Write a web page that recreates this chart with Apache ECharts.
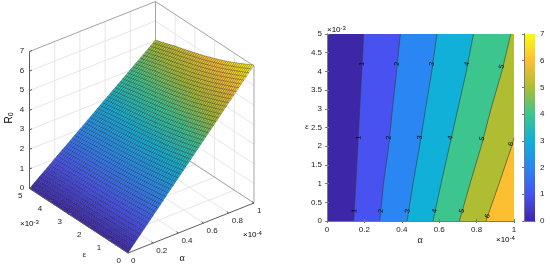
<!DOCTYPE html>
<html>
<head>
<meta charset="utf-8">
<style>html,body{margin:0;padding:0;background:#fff}#c{width:550px;height:267px;filter:blur(0.3px)}</style>
<script src="https://cdn.jsdelivr.net/npm/echarts@6/dist/echarts.min.js"></script>
</head>
<body>
<div id="c"></div>
<script>
// ---------- data ----------
const alphaCols = [0, 0.2, 0.4, 0.6, 0.8, 1];           // x 1e-4
const epsilonRows = [0, 0.5, 1, 1.5, 2, 2.5, 3, 3.5, 4, 4.5, 5]; // x 1e-3
const r0Rows = [
  [0, 1.41, 2.82, 4.23, 5.64, 7.05],
  [0, 1.36, 2.71, 4.07, 5.42, 6.78],
  [0, 1.30, 2.61, 3.91, 5.22, 6.52],
  [0, 1.26, 2.51, 3.77, 5.02, 6.28],
  [0, 1.21, 2.43, 3.64, 4.86, 6.07],
  [0, 1.17, 2.35, 3.52, 4.70, 5.87],
  [0, 1.14, 2.28, 3.42, 4.56, 5.70],
  [0, 1.11, 2.21, 3.32, 4.42, 5.53],
  [0, 1.08, 2.15, 3.23, 4.30, 5.38],
  [0, 1.04, 2.08, 3.12, 4.16, 5.20],
  [0, 1.01, 2.01, 3.02, 4.02, 5.03]
];
const contourEps = [0, 1, 2, 3, 4, 5];
const contour1 = [0.143, 0.154, 0.165, 0.175, 0.186, 0.196];
const contour2 = [0.282, 0.302, 0.330, 0.350, 0.372, 0.392];
const contour3 = [0.428, 0.460, 0.495, 0.527, 0.560, 0.588];
const contour4 = [0.567, 0.610, 0.655, 0.700, 0.745, 0.783];
const contour5 = [0.708, 0.765, 0.825, 0.877, 0.935, 0.983];
const contour6Pairs = [[0.85, 0], [0.92, 1], [0.988, 2], [1, 2.22]];
const contourLabels = [
  [1, 0.146, 0.27], [1, 0.169, 2.23], [1, 0.187, 4.2],
  [2, 0.289, 0.27], [2, 0.330, 2.23], [2, 0.374, 4.2],
  [3, 0.431, 0.27], [3, 0.497, 2.23], [3, 0.561, 4.2],
  [4, 0.576, 0.27], [4, 0.661, 2.23], [4, 0.749, 4.2],
  [5, 0.722, 0.27], [5, 0.829, 2.20], [5, 0.934, 4.13],
  [6, 0.859, 0.13], [6, 0.984, 2.06]
];
const zTicks = [0, 1, 2, 3, 4, 5, 6, 7];
const alphaTicks = [0, 0.2, 0.4, 0.6, 0.8, 1];
const epsTicks = [0, 1, 2, 3, 4, 5];
const parula = ['#3e26a8', '#4752f0', '#2a86f2', '#10b0d8', '#3cc68e', '#aebd31', '#fdbf32', '#f9fb15'];
// ---------- view ----------
const view = { ox: 128, oy: 253, ax: 126, ay: -50, ex: -98.5, ey: -64.5, zy: 137 / 7 };
const project = (a, e, z) => [view.ox + view.ax * a + view.ex * e / 5, view.oy + view.ay * a + view.ey * e / 5 - view.zy * z];
const hex = c => [1, 3, 5].map(i => parseInt(c.substr(i, 2), 16));
function colorAt(z) {
  const t = Math.max(0, Math.min(6.9999, z)), i = Math.floor(t), f = t - i;
  const p = hex(parula[i]), q = hex(parula[i + 1]);
  return 'rgb(' + p.map((v, k) => Math.round(v + (q[k] - v) * f)).join(',') + ')';
}
const TXT = '#1c1c1c', SANS = '"Liberation Sans", Arial, sans-serif', SERIF = '"Liberation Serif", serif';
const FS = 8;
const expRich = { a: { fontSize: FS, fontFamily: SANS, color: TXT }, b: { fontSize: 6, fontFamily: SANS, color: TXT, verticalAlign: 'top', padding: [0, 0, 3, 0] } };

// 3D box segments
const FRAME = '#a3a3a3', GRIDC = '#e6e6e6', AXIS = '#5e5e5e';
const segs = [];
const seg = (p, q, c, w) => segs.push([p[0], p[1], p[2], q[0], q[1], q[2], c, w]);
zTicks.slice(1, 7).concat([0]).forEach(z => { seg([0, 5, z], [1, 5, z], GRIDC, 1); seg([1, 5, z], [1, 0, z], GRIDC, 1); });
alphaTicks.slice(1, 5).forEach(a => { seg([a, 0, 0], [a, 5, 0], GRIDC, 1); seg([a, 5, 0], [a, 5, 7], GRIDC, 1); });
epsTicks.slice(1, 5).forEach(e => { seg([0, e, 0], [1, e, 0], GRIDC, 1); seg([1, e, 0], [1, e, 7], GRIDC, 1); });
seg([1, 5, 0], [1, 0, 0], FRAME, 1); seg([1, 5, 0], [1, 5, 7], FRAME, 1);
seg([0, 5, 7], [1, 5, 7], FRAME, 1); seg([1, 5, 7], [1, 0, 7], FRAME, 1); seg([1, 0, 0], [1, 0, 7], FRAME, 1);
const axisSegs = [];
const aseg = (p, q) => axisSegs.push([p[0], p[1], p[2], q[0], q[1], q[2], AXIS, 1]);
aseg([0, 5, 0], [0, 5, 7]); aseg([0, 0, 0], [1, 0, 0]); aseg([0, 0, 0], [0, 5, 0]);
zTicks.forEach(z => aseg([0, 5, z], [0.02, 5, z]));
alphaTicks.forEach(a => aseg([a, 0, 0], [a, 0.1, 0]));
epsTicks.forEach(e => aseg([0, e, 0], [0.02, e, 0]));

const segRender = (params, api) => {
  const d = segSource[params.seriesName][params.dataIndex];
  const p = api.coord(project(d[0], d[1], d[2])), q = api.coord(project(d[3], d[4], d[5]));
  return { type: 'line', shape: { x1: p[0], y1: p[1], x2: q[0], y2: q[1] }, style: { stroke: d[6], lineWidth: d[7] }, silent: true };
};
const segSource = { back: segs, front: axisSegs };

// Surface: one item per table cell, finely faceted for the mesh
const cells = [];
for (let j = 0; j < epsilonRows.length - 1; j++) for (let i = 0; i < alphaCols.length - 1; i++) cells.push([i, j]);
const SUB_A = 10, SUB_E = 5;
function surfaceItem(params, api) {
  const [i, j] = cells[params.dataIndex];
  const kids = [];
  const node = (u, v) => {
    const z = (r0Rows[j][i] * (1 - u) + r0Rows[j][i + 1] * u) * (1 - v) + (r0Rows[j + 1][i] * (1 - u) + r0Rows[j + 1][i + 1] * u) * v;
    const a = alphaCols[i] + (alphaCols[i + 1] - alphaCols[i]) * u, e = epsilonRows[j] + (epsilonRows[j + 1] - epsilonRows[j]) * v;
    return { z, p: api.coord(project(a, e, z)) };
  };
  for (let s = 0; s < SUB_A; s++) for (let t = 0; t < SUB_E; t++) {
    const n = [node(s / SUB_A, t / SUB_E), node((s + 1) / SUB_A, t / SUB_E), node((s + 1) / SUB_A, (t + 1) / SUB_E), node(s / SUB_A, (t + 1) / SUB_E)];
    const mz = (n[0].z + n[1].z + n[2].z + n[3].z) / 4;
    kids.push({ type: 'polygon', shape: { points: n.map(o => o.p) }, style: { fill: colorAt(mz), stroke: 'rgba(0,0,0,0.55)', lineWidth: 0.45 }, silent: true });
  }
  return { type: 'group', children: kids };
}

// Text around the 3D box
const labels3d = [];
zTicks.forEach(z => { const p = project(0, 5, z); labels3d.push({ t: String(z), x: p[0] - 7.5, y: p[1] - 0.5, al: 'center' }); });
epsTicks.forEach(e => { const p = project(0, e, 0); labels3d.push({ t: String(e), x: p[0] - 9.3, y: p[1] + 7.3, al: 'center' }); });
alphaTicks.forEach(a => { const p = project(a, 0, 0); labels3d.push({ t: String(a), x: p[0] + 3, y: p[1] + 8, al: 'left' }); });
const textRender = (params, api) => {
  const d = labels3d[params.dataIndex], p = api.coord([d.x, d.y]);
  return { type: 'text', x: p[0], y: p[1], style: { text: d.t, font: FS + 'px ' + SANS, fill: TXT, align: d.al, verticalAlign: 'middle' }, silent: true };
};

// Contour regions painted low to high
const lines = [contour1, contour2, contour3, contour4, contour5].map(col => col.map((a, k) => [a, contourEps[k]]));
lines.push(contour6Pairs);
const bandRender = (params, api) => {
  const i = params.dataIndex;
  let pts;
  if (i === 0) pts = [[0, 0], [1, 0], [1, 5], [0, 5]];
  else { const l = lines[i - 1], top = l[l.length - 1]; pts = l.concat([[1, top[1]], [1, 0]]); }
  return { type: 'polygon', shape: { points: pts.map(p => api.coord(p)) }, style: { fill: parula[i] }, silent: true };
};
const labelRender = (params, api) => {
  const d = contourLabels[params.dataIndex], l = lines[d[0] - 1];
  const p0 = api.coord(l[0]), p1 = api.coord(l[l.length - 1]), c = api.coord([d[1], d[2]]);
  const ang = Math.atan2(p0[1] - p1[1], p1[0] - p0[0]);
  return { type: 'text', x: c[0], y: c[1], rotation: ang, style: { text: String(d[0]), font: '7px ' + SANS, fill: '#0a0a0a', align: 'center', verticalAlign: 'middle' }, silent: true };
};

const frameLine = { show: true, lineStyle: { color: '#7a7a7a', width: 1 } };
const tickIn = { show: true, inside: true, length: 2, lineStyle: { color: '#7a7a7a', width: 1 } };
const lab = { color: TXT, fontSize: FS, fontFamily: SANS, margin: 5 };
const mirror = (pos, gi, min, max, interval) => ({ type: 'value', gridIndex: gi, position: pos, min, max, interval, z: 10, axisLine: frameLine, axisTick: tickIn, axisLabel: { show: false }, splitLine: { show: false } });
const main = (pos, gi, min, max, interval) => ({ type: 'value', gridIndex: gi, position: pos, min, max, interval, z: 10, axisLine: frameLine, axisTick: tickIn, axisLabel: lab, splitLine: { show: false } });

const gradStops = parula.map((c, k) => ({ offset: k / (parula.length - 1), color: c }));

const txt = (x, y, text, font, extra) => ({ type: 'text', x, y, silent: true, style: Object.assign({ text, font, fill: TXT, align: 'center', verticalAlign: 'middle' }, extra || {}) });
const power = (x, y, e) => ({ type: 'text', x, y, silent: true, style: { text: '{a|×10}{b|' + e + '}', rich: expRich, align: 'left', verticalAlign: 'middle' } });

const option = {
  animation: false,
  backgroundColor: '#fff',
  grid: [
    { left: 0, top: 0, width: 550, height: 267 },
    { left: 327, top: 34, width: 187, height: 187 },
    { left: 524, top: 34, width: 11, height: 187 }
  ],
  xAxis: [
    { type: 'value', gridIndex: 0, min: 0, max: 550, show: false },
    main('bottom', 1, 0, 1, 0.2),
    mirror('top', 1, 0, 1, 0.2),
    { type: 'category', gridIndex: 2, data: ['R0'], position: 'bottom', z: 10, axisLine: frameLine, axisTick: { show: false }, axisLabel: { show: false } },
    Object.assign(mirror('top', 2, 0, 1, 1), { axisTick: { show: false } })
  ],
  yAxis: [
    { type: 'value', gridIndex: 0, min: 0, max: 267, inverse: true, show: false },
    main('left', 1, 0, 5, 0.5),
    mirror('right', 1, 0, 5, 0.5),
    main('right', 2, 0, 7, 1),
    Object.assign(mirror('left', 2, 0, 7, 1), { axisTick: { show: false } })
  ],
  series: [
    { name: 'back', type: 'custom', xAxisIndex: 0, yAxisIndex: 0, clip: false, z: 2, data: segs.map((s, k) => [k]), renderItem: segRender, encode: { x: 0, y: 0 } },
    { name: 'R0 surface', type: 'custom', xAxisIndex: 0, yAxisIndex: 0, clip: false, z: 3, data: cells, renderItem: surfaceItem, encode: { x: 0, y: 1 } },
    { name: 'front', type: 'custom', xAxisIndex: 0, yAxisIndex: 0, clip: false, z: 4, data: axisSegs.map((s, k) => [k]), renderItem: segRender, encode: { x: 0, y: 0 } },
    { name: 'labels', type: 'custom', xAxisIndex: 0, yAxisIndex: 0, clip: false, z: 5, data: labels3d.map((s, k) => [k]), renderItem: textRender, encode: { x: 0, y: 0 } },
    { name: 'bands', type: 'custom', xAxisIndex: 1, yAxisIndex: 1, clip: false, z: 2, data: parula.slice(0, 7).map((c, k) => [k]), renderItem: bandRender, encode: { x: 0, y: 0 } }
  ].concat(lines.map((l, k) => ({
    name: 'level ' + (k + 1), type: 'line', xAxisIndex: 1, yAxisIndex: 1, data: l, showSymbol: false, symbol: 'none', z: 3, silent: true,
    lineStyle: { color: '#3a3a3a', width: 0.6 }
  }))).concat([
    { name: 'contour labels', type: 'custom', xAxisIndex: 1, yAxisIndex: 1, clip: false, z: 4, data: contourLabels.map((s, k) => [k]), renderItem: labelRender, encode: { x: 0, y: 0 } },
    { name: 'colorbar', type: 'bar', xAxisIndex: 3, yAxisIndex: 3, data: [7], barWidth: '100%', z: 2, silent: true,
      itemStyle: { color: { type: 'linear', x: 0, y: 1, x2: 0, y2: 0, colorStops: gradStops } } }
  ]),
  graphic: [
    { type: 'text', x: 9, y: 118, rotation: Math.PI / 2, silent: true, style: { text: '{a|R}{b|0}', align: 'center', verticalAlign: 'middle',
      rich: { a: { fontSize: 10, fontFamily: SANS, color: TXT }, b: { fontSize: 7, fontFamily: SANS, color: TXT, verticalAlign: 'bottom', padding: [4, 0, 0, 0] } } } },
    txt(84.5, 255, 'ε', '9px ' + SERIF),
    txt(182, 258.5, 'α', '10px ' + SERIF),
    power(20, 224, '-3'),
    power(243, 235, '-4'),
    power(327, 30, '-3'),
    power(496, 240, '-4'),
    txt(420, 240, 'α', '10px ' + SERIF),
    txt(307, 127, 'ε', '9px ' + SERIF)
  ]
};
const chart = echarts.init(document.getElementById('c'), null, { renderer: 'canvas' });
chart.setOption(option);
</script>
</body>
</html>
